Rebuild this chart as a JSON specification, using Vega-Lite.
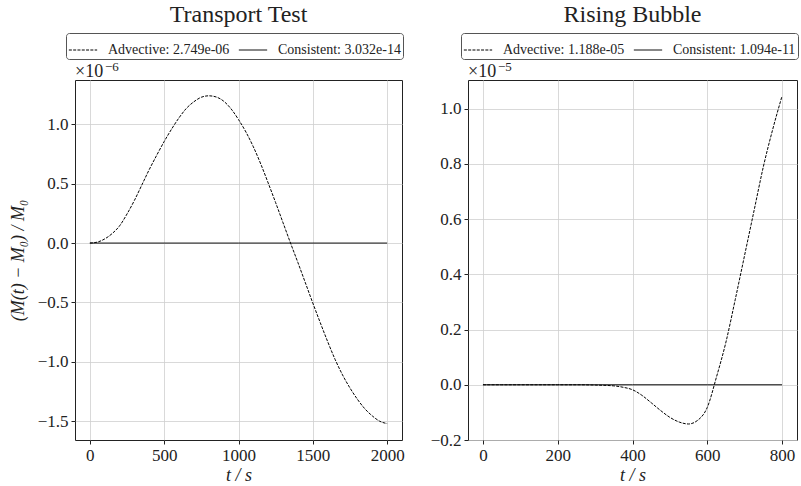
{
  "$schema": "https://vega.github.io/schema/vega-lite/v6.json",
  "padding": {"left": 8, "top": 2, "right": 0, "bottom": 2},
  "background": "white",
  "config": {
    "font": "Liberation Serif",
    "view": {"stroke": "#222", "strokeWidth": 1},
    "axis": {
      "labelFont": "Liberation Serif", "labelFontSize": 17, "labelColor": "#222",
      "titleFont": "Liberation Serif", "titleFontSize": 18, "titleFontWeight": "normal", "titleColor": "#222",
      "gridColor": "#cfcfcf", "gridWidth": 0.8, "tickColor": "#222", "tickSize": 4, "labelPadding": 3, "domain": false
    },
    "title": {"font": "Liberation Serif", "fontSize": 24, "fontWeight": "normal", "color": "#222"},
    "legend": {
      "labelFont": "Liberation Serif", "labelFontSize": 14, "labelColor": "#222"
    }
  },
  "datasets": {
    "transport": [
      {"t": 0, "scheme": "Advective", "rel": 0},
      {"t": 50, "scheme": "Advective", "rel": 0.008e-6},
      {"t": 100, "scheme": "Advective", "rel": 0.035e-6},
      {"t": 150, "scheme": "Advective", "rel": 0.08e-6},
      {"t": 200, "scheme": "Advective", "rel": 0.145e-6},
      {"t": 250, "scheme": "Advective", "rel": 0.245e-6},
      {"t": 300, "scheme": "Advective", "rel": 0.36e-6},
      {"t": 350, "scheme": "Advective", "rel": 0.49e-6},
      {"t": 400, "scheme": "Advective", "rel": 0.62e-6},
      {"t": 450, "scheme": "Advective", "rel": 0.74e-6},
      {"t": 500, "scheme": "Advective", "rel": 0.855e-6},
      {"t": 550, "scheme": "Advective", "rel": 0.96e-6},
      {"t": 600, "scheme": "Advective", "rel": 1.055e-6},
      {"t": 650, "scheme": "Advective", "rel": 1.135e-6},
      {"t": 700, "scheme": "Advective", "rel": 1.19e-6},
      {"t": 750, "scheme": "Advective", "rel": 1.228e-6},
      {"t": 800, "scheme": "Advective", "rel": 1.24e-6},
      {"t": 850, "scheme": "Advective", "rel": 1.23e-6},
      {"t": 900, "scheme": "Advective", "rel": 1.195e-6},
      {"t": 950, "scheme": "Advective", "rel": 1.13e-6},
      {"t": 1000, "scheme": "Advective", "rel": 1.04e-6},
      {"t": 1050, "scheme": "Advective", "rel": 0.935e-6},
      {"t": 1100, "scheme": "Advective", "rel": 0.81e-6},
      {"t": 1150, "scheme": "Advective", "rel": 0.665e-6},
      {"t": 1200, "scheme": "Advective", "rel": 0.505e-6},
      {"t": 1250, "scheme": "Advective", "rel": 0.34e-6},
      {"t": 1300, "scheme": "Advective", "rel": 0.17e-6},
      {"t": 1350, "scheme": "Advective", "rel": 0.0},
      {"t": 1400, "scheme": "Advective", "rel": -0.165e-6},
      {"t": 1450, "scheme": "Advective", "rel": -0.335e-6},
      {"t": 1500, "scheme": "Advective", "rel": -0.505e-6},
      {"t": 1550, "scheme": "Advective", "rel": -0.67e-6},
      {"t": 1600, "scheme": "Advective", "rel": -0.83e-6},
      {"t": 1650, "scheme": "Advective", "rel": -0.98e-6},
      {"t": 1700, "scheme": "Advective", "rel": -1.11e-6},
      {"t": 1750, "scheme": "Advective", "rel": -1.22e-6},
      {"t": 1800, "scheme": "Advective", "rel": -1.315e-6},
      {"t": 1850, "scheme": "Advective", "rel": -1.395e-6},
      {"t": 1900, "scheme": "Advective", "rel": -1.455e-6},
      {"t": 1950, "scheme": "Advective", "rel": -1.5e-6},
      {"t": 2000, "scheme": "Advective", "rel": -1.52e-6},
      {"t": 0, "scheme": "Consistent", "rel": 0},
      {"t": 500, "scheme": "Consistent", "rel": 0},
      {"t": 1000, "scheme": "Consistent", "rel": 0},
      {"t": 1500, "scheme": "Consistent", "rel": 0},
      {"t": 2000, "scheme": "Consistent", "rel": 0}
    ],
    "bubble": [
      {"t": 0, "scheme": "Advective", "rel": 0},
      {"t": 50, "scheme": "Advective", "rel": 0},
      {"t": 100, "scheme": "Advective", "rel": 0},
      {"t": 150, "scheme": "Advective", "rel": 0},
      {"t": 200, "scheme": "Advective", "rel": 0},
      {"t": 250, "scheme": "Advective", "rel": 0},
      {"t": 300, "scheme": "Advective", "rel": -0.001e-5},
      {"t": 350, "scheme": "Advective", "rel": -0.004e-5},
      {"t": 375, "scheme": "Advective", "rel": -0.009e-5},
      {"t": 400, "scheme": "Advective", "rel": -0.018e-5},
      {"t": 425, "scheme": "Advective", "rel": -0.038e-5},
      {"t": 450, "scheme": "Advective", "rel": -0.065e-5},
      {"t": 475, "scheme": "Advective", "rel": -0.093e-5},
      {"t": 500, "scheme": "Advective", "rel": -0.118e-5},
      {"t": 525, "scheme": "Advective", "rel": -0.135e-5},
      {"t": 550, "scheme": "Advective", "rel": -0.142e-5},
      {"t": 575, "scheme": "Advective", "rel": -0.128e-5},
      {"t": 600, "scheme": "Advective", "rel": -0.082e-5},
      {"t": 625, "scheme": "Advective", "rel": 0.03e-5},
      {"t": 650, "scheme": "Advective", "rel": 0.155e-5},
      {"t": 675, "scheme": "Advective", "rel": 0.31e-5},
      {"t": 700, "scheme": "Advective", "rel": 0.47e-5},
      {"t": 725, "scheme": "Advective", "rel": 0.63e-5},
      {"t": 750, "scheme": "Advective", "rel": 0.79e-5},
      {"t": 775, "scheme": "Advective", "rel": 0.925e-5},
      {"t": 800, "scheme": "Advective", "rel": 1.046e-5},
      {"t": 0, "scheme": "Consistent", "rel": 0},
      {"t": 200, "scheme": "Consistent", "rel": 0},
      {"t": 400, "scheme": "Consistent", "rel": 0},
      {"t": 600, "scheme": "Consistent", "rel": 0},
      {"t": 800, "scheme": "Consistent", "rel": 0}
    ]
  },
  "bounds": "flush",
  "spacing": 66,
  "resolve": {"scale": {"strokeDash": "independent"}, "legend": {"strokeDash": "independent"}},
  "hconcat": [
    {
      "title": {"text": "Transport Test", "offset": 6},
      "width": 327,
      "height": 360,
      "layer": [
        {
          "data": {"name": "transport"},
          "mark": {"type": "line", "color": "#000", "strokeWidth": 1, "interpolate": "monotone"},
          "encoding": {
            "x": {"field": "t", "type": "quantitative",
              "scale": {"domain": [-100, 2100], "nice": false, "zero": false},
              "axis": {"values": [0, 500, 1000, 1500, 2000], "format": "d", "title": "t / s", "titleFontStyle": "italic", "titlePadding": 3}},
            "y": {"field": "rel", "type": "quantitative",
              "scale": {"domain": [-1.658e-6, 1.373e-6], "nice": false, "zero": false},
              "axis": {"values": [-1.5e-6, -1e-6, -5e-7, 0, 5e-7, 1e-6], "labelExpr": "format(datum.value * 1e6, '.1f')",
                "title": "(M(t) − M₀) / M₀", "titleFontStyle": "italic", "titlePadding": 10}},
            "strokeDash": {"field": "scheme", "type": "nominal",
              "scale": {"domain": ["Advective", "Consistent"], "range": [[3, 1.3], [1, 0]]},
              "legend": {"orient": "none", "legendX": -9, "legendY": -47, "direction": "horizontal", "title": null,
                "labelExpr": "datum.label == 'Advective' ? 'Advective: 2.749e-06' : 'Consistent: 3.032e-14'",
                "strokeColor": "#555", "cornerRadius": 3, "padding": 2, "fillColor": "white",
                "symbolType": "stroke", "symbolSize": 800, "symbolStrokeWidth": 1, "symbolStrokeColor": "#000",
                "labelOffset": 10, "columnPadding": 6}}
          }
        },
        {
          "data": {"values": [{"label": "×10"}]},
          "mark": {"type": "text", "align": "left", "baseline": "bottom", "fontSize": 18, "color": "#222", "dy": 1},
          "encoding": {
            "x": {"datum": -100},
            "y": {"datum": 1.373e-6},
            "text": {"field": "label"}
          }
        },
        {
          "data": {"values": [{"label": "−6"}]},
          "mark": {"type": "text", "align": "left", "baseline": "bottom", "fontSize": 13, "color": "#222", "dx": 30, "dy": -6},
          "encoding": {
            "x": {"datum": -100},
            "y": {"datum": 1.373e-6},
            "text": {"field": "label"}
          }
        }
      ]
    },
    {
      "title": {"text": "Rising Bubble", "offset": 6},
      "width": 329,
      "height": 360,
      "layer": [
        {
          "data": {"name": "bubble"},
          "mark": {"type": "line", "color": "#000", "strokeWidth": 1, "interpolate": "monotone"},
          "encoding": {
            "x": {"field": "t", "type": "quantitative",
              "scale": {"domain": [-40, 840], "nice": false, "zero": false},
              "axis": {"values": [0, 200, 400, 600, 800], "format": "d", "title": "t / s", "titleFontStyle": "italic", "titlePadding": 3}},
            "y": {"field": "rel", "type": "quantitative",
              "scale": {"domain": [-2e-6, 1.104e-5], "nice": false, "zero": false},
              "axis": {"values": [-2e-6, 0, 2e-6, 4e-6, 6e-6, 8e-6, 1e-5], "labelExpr": "format(datum.value * 1e5, '.1f')", "title": null}},
            "strokeDash": {"field": "scheme", "type": "nominal",
              "scale": {"domain": ["Advective", "Consistent"], "range": [[3, 1.3], [1, 0]]},
              "legend": {"orient": "none", "legendX": -7, "legendY": -47, "direction": "horizontal", "title": null,
                "labelExpr": "datum.label == 'Advective' ? 'Advective: 1.188e-05' : 'Consistent: 1.094e-11'",
                "strokeColor": "#555", "cornerRadius": 3, "padding": 2, "fillColor": "white",
                "symbolType": "stroke", "symbolSize": 800, "symbolStrokeWidth": 1, "symbolStrokeColor": "#000",
                "labelOffset": 10, "columnPadding": 6}}
          }
        },
        {
          "data": {"values": [{"label": "×10"}]},
          "mark": {"type": "text", "align": "left", "baseline": "bottom", "fontSize": 18, "color": "#222", "dy": 1},
          "encoding": {
            "x": {"datum": -40},
            "y": {"datum": 1.104e-5},
            "text": {"field": "label"}
          }
        },
        {
          "data": {"values": [{"label": "−5"}]},
          "mark": {"type": "text", "align": "left", "baseline": "bottom", "fontSize": 13, "color": "#222", "dx": 30, "dy": -6},
          "encoding": {
            "x": {"datum": -40},
            "y": {"datum": 1.104e-5},
            "text": {"field": "label"}
          }
        }
      ]
    }
  ]
}
